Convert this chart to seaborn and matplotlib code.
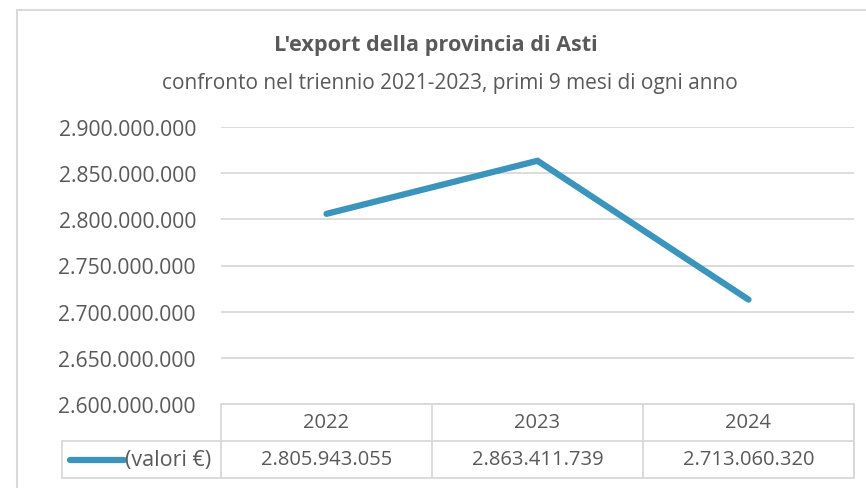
import matplotlib
matplotlib.use("Agg")
import matplotlib.pyplot as plt
import seaborn as sns
import pandas as pd
from matplotlib.lines import Line2D
from matplotlib.patches import Rectangle

# ---- data ----
years = ["2022", "2023", "2024"]
values = [2805943055, 2863411739, 2713060320]
series_label = "(valori €)"
title = "L'export della provincia di Asti"
subtitle = "confronto nel triennio 2021-2023, primi 9 mesi di ogni anno"
y_ticks = [2600000000, 2650000000, 2700000000, 2750000000, 2800000000, 2850000000, 2900000000]

def it_fmt(v):
    return f"{v:,.0f}".replace(",", ".")

sns.set_theme(style="white")
plt.rcParams['font.family'] = ['Open Sans', 'DejaVu Sans']

W, H = 866, 489
fig = plt.figure(figsize=(W / 100, H / 100), dpi=100)
fig.patch.set_facecolor("white")

def fx(px):
    return px / W

def fy(py):
    return 1 - py / H

GRID = "#D9D9D9"
TXT = "#595959"
LINEC = "#3A94BC"

# outer chart border
fig.add_artist(Rectangle((fx(17), fy(600)), fx(900), fy(11) - fy(600),
                         transform=fig.transFigure, fill=False,
                         edgecolor=GRID, linewidth=1.5))

# plot area
L, R, T, B = 221, 854, 128, 405
ax = fig.add_axes([fx(L), fy(B), fx(R - L), fy(T) - fy(B)])
df = pd.DataFrame({"x": range(len(years)), "val": values})
sns.lineplot(data=df, x="x", y="val", ax=ax, color=LINEC, linewidth=4.5,
             solid_capstyle="round", solid_joinstyle="miter")
ax.set_xlim(-0.5, len(years) - 0.5)
ax.set_ylim(y_ticks[0], y_ticks[-1])
ax.set_yticks(y_ticks)
ax.set_yticklabels([it_fmt(v) for v in y_ticks], color=TXT, fontsize=15.2)
ax.set_xticks([])
ax.set_xlabel("")
ax.set_ylabel("")
ax.tick_params(axis="y", length=0, pad=18)
ax.yaxis.grid(True, color=GRID, linewidth=1.3)
ax.set_axisbelow(True)
for s in ax.spines.values():
    s.set_visible(False)

# titles
fig.text(fx(436), fy(46), title, ha="center", va="center", fontsize=15.6,
         fontweight="bold", color=TXT)
fig.text(fx(450), fy(84), subtitle, ha="center", va="center", fontsize=15,
         color=TXT)

# data table
def hline(x0, x1, y):
    fig.add_artist(Line2D([fx(x0), fx(x1)], [fy(y), fy(y)], transform=fig.transFigure,
                          color=GRID, linewidth=1.3))

def vline(x, y0, y1):
    fig.add_artist(Line2D([fx(x), fx(x)], [fy(y0), fy(y1)], transform=fig.transFigure,
                          color=GRID, linewidth=1.3))

row0, row1, row2 = 405, 442, 479
colw = (R - L) / len(years)
hline(L, R, row0)
hline(62, R, row1)
hline(62, R, row2)
vline(62, row1, row2)
for i in range(len(years) + 1):
    vline(L + i * colw, row0, row2)
vline(R, row0, row2)
for i, (yr, v) in enumerate(zip(years, values)):
    cx = L + (i + 0.5) * colw
    fig.text(fx(cx), fy((row0 + row1) / 2), yr, ha="center", va="center",
             fontsize=14.5, color=TXT)
    fig.text(fx(cx), fy((row1 + row2) / 2), it_fmt(v), ha="center", va="center",
             fontsize=14.5, color=TXT)
# legend key in table
fig.add_artist(Line2D([fx(70), fx(124)], [fy(461), fy(461)], transform=fig.transFigure,
                      color=LINEC, linewidth=4.5, solid_capstyle="round"))
fig.text(fx(125), fy(461), series_label, ha="left", va="center", fontsize=15.5, color=TXT)

fig.savefig("out.png", dpi=100, facecolor="white")
